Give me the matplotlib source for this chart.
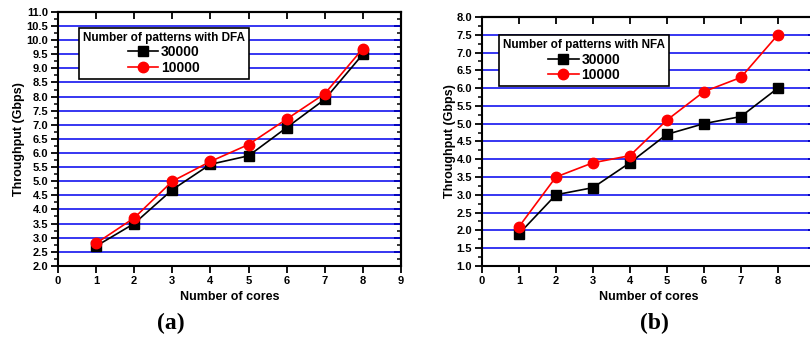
import matplotlib
matplotlib.use("Agg")
import matplotlib.pyplot as plt
from matplotlib.ticker import MultipleLocator

plt.rcParams['font.family'] = ['Liberation Sans', 'DejaVu Sans']
plt.rcParams['font.weight'] = 'bold'

cores = [1, 2, 3, 4, 5, 6, 7, 8]

# (a) DFA throughput
dfa_30000 = [2.7, 3.5, 4.7, 5.6, 5.9, 6.9, 7.9, 9.5]
dfa_10000 = [2.8, 3.7, 5.0, 5.7, 6.3, 7.2, 8.1, 9.7]

# (b) NFA throughput
nfa_30000 = [1.9, 3.0, 3.2, 3.9, 4.7, 5.0, 5.2, 6.0]
nfa_10000 = [2.1, 3.5, 3.9, 4.1, 5.1, 5.9, 6.3, 7.5]

series_labels = ['30000', '10000']


def draw_panel(ax, y_black, y_red, ylim, title, legend_anchor, xticks, ylabel_x):
    ax.set_axisbelow(True)
    ax.yaxis.grid(True, color='#0000ee', linewidth=1.1)
    ax.plot(cores, y_black, color='black', marker='s', markersize=6.5,
            linewidth=1.2, label=series_labels[0])
    ax.plot(cores, y_red, color='red', marker='o', markersize=7.5,
            linewidth=1.2, label=series_labels[1])
    ax.set_xlim(0, 9)
    ax.set_ylim(*ylim)
    ax.set_xticks(xticks)
    ax.yaxis.set_major_locator(MultipleLocator(0.5))
    ax.yaxis.set_minor_locator(MultipleLocator(0.25))
    ax.yaxis.set_major_formatter(plt.FormatStrFormatter('%.1f'))
    ax.tick_params(axis='both', which='major', labelsize=8, width=1.3,
                   length=5, direction='out', pad=2)
    ax.tick_params(axis='y', which='minor', width=1.1, length=3, direction='out')
    for lab in ax.get_xticklabels() + ax.get_yticklabels():
        lab.set_fontweight('bold')
    for s in ax.spines.values():
        s.set_linewidth(1.5)

    # mirrored ticks on top and right point inward
    top = ax.secondary_xaxis('top')
    top.set_xticks(range(0, 10))
    top.tick_params(direction='in', length=5, width=1.3, labeltop=False)
    right = ax.secondary_yaxis('right')
    right.yaxis.set_major_locator(MultipleLocator(0.5))
    right.yaxis.set_minor_locator(MultipleLocator(0.25))
    right.tick_params(which='major', direction='in', length=5, width=1.3, labelright=False)
    right.tick_params(which='minor', direction='in', length=3, width=1.1)
    for sec in (top, right):
        for s in sec.spines.values():
            s.set_linewidth(1.5)

    ax.set_xlabel('Number of cores', fontsize=9, fontweight='bold', labelpad=4)
    ax.set_ylabel('Throughput (Gbps)', fontsize=9, fontweight='bold')
    ax.yaxis.set_label_coords(ylabel_x, 0.5)
    leg = ax.legend(title=title, loc='upper left', bbox_to_anchor=legend_anchor,
                    fontsize=10, title_fontproperties={'weight': 'bold', 'size': 8.5},
                    fancybox=False, framealpha=1, edgecolor='black',
                    handlelength=2.2, handletextpad=0.2, borderpad=0.3,
                    labelspacing=0.1, alignment='center')
    leg.get_frame().set_linewidth(1.2)
    for t in leg.get_texts():
        t.set_fontweight('bold')


fig = plt.figure(figsize=(8.1, 3.4), dpi=100)
ax1 = fig.add_axes([0.0716, 0.218, 0.4234, 0.747])
ax2 = fig.add_axes([0.595, 0.218, 0.411, 0.732])

draw_panel(ax1, dfa_30000, dfa_10000, (2.0, 11.0), 'Number of patterns with DFA',
           (0.04, 0.965), range(0, 10), -0.095)
draw_panel(ax2, nfa_30000, nfa_10000, (1.0, 8.0), 'Number of patterns with NFA',
           (0.03, 0.955), range(0, 9), -0.078)

fig.text(0.211, 0.05, '(a)', fontsize=17, fontweight='bold',
         family='Liberation Serif', ha='center', va='center')
fig.text(0.808, 0.05, '(b)', fontsize=17, fontweight='bold',
         family='Liberation Serif', ha='center', va='center')

fig.savefig('out.png', dpi=100)
